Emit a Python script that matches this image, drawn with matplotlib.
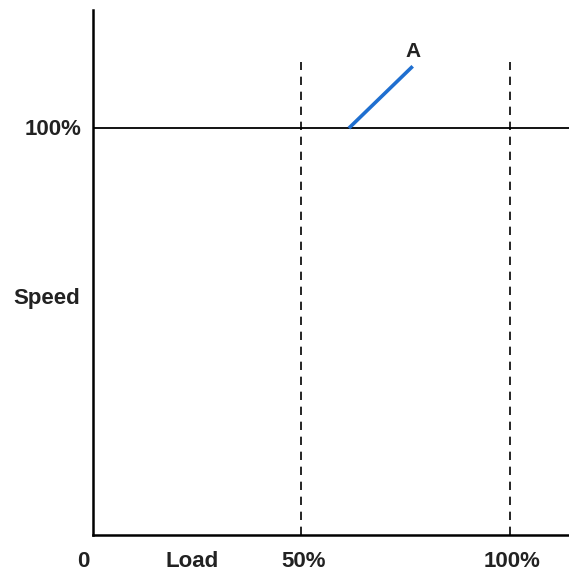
import matplotlib.pyplot as plt

# load axis (% of rated load) and speed axis (% of rated speed)
DASH_LOADS = [50, 100]
RATED_SPEED = 100
CURVE_A_LOAD = [61.4, 76.7]
CURVE_A_SPEED = [100, 115.2]

X_LABELS = ["0", "Load", "50%", "100%"]
X_LABEL_POS = [-2.2, 23.8, 50.5, 100.5]

plt.rcParams["font.family"] = ["Liberation Sans", "DejaVu Sans"]
FS = 16

fig = plt.figure(figsize=(5.69, 5.73), dpi=100)
ax = fig.add_axes([0.1634, 0.0663, 0.8366, 0.916])
ax.set_xlim(0, 114.2)
ax.set_ylim(0, 129)

for side in ["top", "right"]:
    ax.spines[side].set_visible(False)
for side in ["left", "bottom"]:
    ax.spines[side].set_linewidth(1.8)
ax.set_xticks([])
ax.set_yticks([])

ax.axhline(RATED_SPEED, color="black", lw=1.3)
for x in DASH_LOADS:
    ax.plot([x, x], [0, 116.2], color="black", lw=1.2, linestyle=(0, (5, 4)))

ax.plot(CURVE_A_LOAD, CURVE_A_SPEED, color="#1f6fd0", lw=2.6, solid_capstyle="butt")
ax.text(CURVE_A_LOAD[-1], 118.9, "A", ha="center", va="center",
        fontsize=FS - 1, fontweight="bold", color="#222222")

for lab, x in zip(X_LABELS, X_LABEL_POS):
    ax.text(x, -6.6, lab, ha="center", va="center", fontsize=FS,
            fontweight="bold", color="#222222", clip_on=False)

ax.text(-2.7, 99.7, "100%", ha="right", va="center", fontsize=FS,
        fontweight="bold", color="#222222", clip_on=False)
ax.text(-3.1, 58.2, "Speed", ha="right", va="center", fontsize=FS,
        fontweight="bold", color="#222222", clip_on=False)

fig.savefig("out.png", dpi=100, facecolor="white")
